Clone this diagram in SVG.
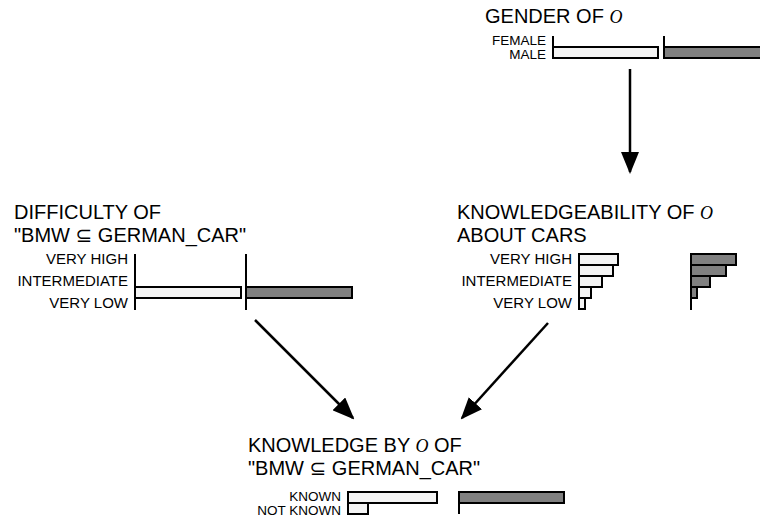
<svg xmlns="http://www.w3.org/2000/svg" width="760" height="522" viewBox="0 0 760 522">
<style>
.t{font-family:"Liberation Sans","DejaVu Sans",sans-serif;font-size:20px;fill:#000}
.l{font-family:"Liberation Sans","DejaVu Sans",sans-serif;font-size:15px;fill:#000;text-anchor:end}
.ls{font-family:"Liberation Sans","DejaVu Sans",sans-serif;font-size:13.5px;fill:#000;text-anchor:end}
.o{font-family:"Liberation Serif",serif;font-style:italic;font-size:18px}
.w{fill:#f4f4f4;stroke:#000;stroke-width:2}
.g{fill:#808080;stroke:#000;stroke-width:2}
.ax{stroke:#000;stroke-width:2;fill:none}
.c{stroke:#000;stroke-width:2.5;fill:none;marker-end:url(#ah)}
</style>
<defs>
<marker id="ah" markerUnits="userSpaceOnUse" markerWidth="22" markerHeight="18" viewBox="0 0 22 18" refX="20" refY="9" orient="auto">
<path d="M0,0 L22,9 L0,18 Z" fill="#000"/>
</marker>
</defs>
<g id="connectors">
<line class="c" x1="630" y1="69" x2="630" y2="172"/>
<line class="c" x1="255" y1="320" x2="353" y2="418"/>
<line class="c" x1="548" y1="323" x2="462" y2="418"/>
</g>
<g id="gender">
<text class="t" x="485" y="23">GENDER OF <tspan class="o">O</tspan></text>
<text class="ls" x="546" y="45">FEMALE</text>
<text class="ls" x="546" y="59">MALE</text>
<line class="ax" x1="553" y1="36" x2="553" y2="58"/>
<rect class="w" x="553" y="47" width="105" height="11"/>
<line class="ax" x1="664" y1="36" x2="664" y2="58"/>
<rect class="g" x="664" y="47" width="100" height="11"/>
</g>
<g id="difficulty">
<text class="t" x="14" y="219">DIFFICULTY OF</text>
<text class="t" x="14" y="242">"BMW ⊆ GERMAN_CAR"</text>
<text class="l" x="128" y="264">VERY HIGH</text>
<text class="l" x="128" y="286">INTERMEDIATE</text>
<text class="l" x="128" y="308">VERY LOW</text>
<line class="ax" x1="135" y1="254" x2="135" y2="310"/>
<rect class="w" x="135" y="287" width="106" height="11"/>
<line class="ax" x1="246" y1="254" x2="246" y2="310"/>
<rect class="g" x="246" y="287" width="106" height="11"/>
</g>
<g id="knowledgeability">
<text class="t" x="457" y="219">KNOWLEDGEABILITY OF <tspan class="o">O</tspan></text>
<text class="t" x="457" y="242">ABOUT CARS</text>
<text class="l" x="572" y="264">VERY HIGH</text>
<text class="l" x="572" y="286">INTERMEDIATE</text>
<text class="l" x="572" y="308">VERY LOW</text>
<rect class="w" x="579" y="254" width="39" height="11"/>
<rect class="w" x="579" y="265" width="34" height="11"/>
<rect class="w" x="579" y="276" width="23" height="11"/>
<rect class="w" x="579" y="287" width="12" height="11"/>
<rect class="w" x="579" y="298" width="6" height="11"/>
<rect class="g" x="691" y="254" width="45" height="11"/>
<rect class="g" x="691" y="265" width="35" height="11"/>
<rect class="g" x="691" y="276" width="19" height="11"/>
<rect class="g" x="691" y="287" width="6" height="11"/>
<line class="ax" x1="691" y1="254" x2="691" y2="310"/>
</g>
<g id="knowledge">
<text class="t" x="248" y="452">KNOWLEDGE BY <tspan class="o">O</tspan> OF</text>
<text class="t" x="248" y="475">"BMW ⊆ GERMAN_CAR"</text>
<text class="ls" x="341" y="501">KNOWN</text>
<text class="ls" x="341" y="515">NOT KNOWN</text>
<rect class="w" x="348" y="492" width="89" height="11"/>
<rect class="w" x="348" y="503" width="20" height="11"/>
<rect class="g" x="459" y="492" width="105" height="11"/>
<line class="ax" x1="459" y1="492" x2="459" y2="514"/>
</g>
</svg>
